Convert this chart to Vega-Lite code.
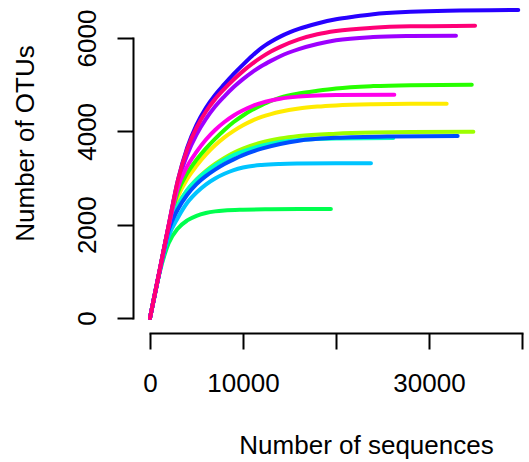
{
  "$schema": "https://vega.github.io/schema/vega-lite/v6.json",
  "width": 372,
  "height": 280,
  "autosize": {"type": "none"},
  "padding": {"left": 150, "top": 38, "right": 7, "bottom": 144},
  "background": "white",
  "config": {"view": {"stroke": null}, "font": "Liberation Sans"},
  "datasets": {
    "curves": [
      {"sample": "S02", "seqs": 0, "otus": 0}, {"sample": "S02", "seqs": 1000, "otus": 975}, {"sample": "S02", "seqs": 2000, "otus": 1930}, {"sample": "S02", "seqs": 3000, "otus": 2600}, {"sample": "S02", "seqs": 4000, "otus": 2980}, {"sample": "S02", "seqs": 5000, "otus": 3260}, {"sample": "S02", "seqs": 6000, "otus": 3500}, {"sample": "S02", "seqs": 7000, "otus": 3700}, {"sample": "S02", "seqs": 8000, "otus": 3870}, {"sample": "S02", "seqs": 9000, "otus": 4010}, {"sample": "S02", "seqs": 10000, "otus": 4130}, {"sample": "S02", "seqs": 11000, "otus": 4230}, {"sample": "S02", "seqs": 12000, "otus": 4310}, {"sample": "S02", "seqs": 13000, "otus": 4370}, {"sample": "S02", "seqs": 14000, "otus": 4420}, {"sample": "S02", "seqs": 16000, "otus": 4490}, {"sample": "S02", "seqs": 18000, "otus": 4530}, {"sample": "S02", "seqs": 20000, "otus": 4555}, {"sample": "S02", "seqs": 24000, "otus": 4580}, {"sample": "S02", "seqs": 28000, "otus": 4590}, {"sample": "S02", "seqs": 31900, "otus": 4593},

      {"sample": "S03", "seqs": 0, "otus": 0}, {"sample": "S03", "seqs": 1000, "otus": 970}, {"sample": "S03", "seqs": 2000, "otus": 1920}, {"sample": "S03", "seqs": 3000, "otus": 2420}, {"sample": "S03", "seqs": 4000, "otus": 2740}, {"sample": "S03", "seqs": 5000, "otus": 2970}, {"sample": "S03", "seqs": 6000, "otus": 3150}, {"sample": "S03", "seqs": 7000, "otus": 3300}, {"sample": "S03", "seqs": 8000, "otus": 3430}, {"sample": "S03", "seqs": 9000, "otus": 3540}, {"sample": "S03", "seqs": 10000, "otus": 3630}, {"sample": "S03", "seqs": 12000, "otus": 3760}, {"sample": "S03", "seqs": 14000, "otus": 3845}, {"sample": "S03", "seqs": 16000, "otus": 3900}, {"sample": "S03", "seqs": 20000, "otus": 3950}, {"sample": "S03", "seqs": 24000, "otus": 3975}, {"sample": "S03", "seqs": 28000, "otus": 3987}, {"sample": "S03", "seqs": 34770, "otus": 3993},

      {"sample": "S04", "seqs": 0, "otus": 0}, {"sample": "S04", "seqs": 1000, "otus": 980}, {"sample": "S04", "seqs": 2000, "otus": 1950}, {"sample": "S04", "seqs": 3000, "otus": 2700}, {"sample": "S04", "seqs": 4000, "otus": 3100}, {"sample": "S04", "seqs": 5000, "otus": 3390}, {"sample": "S04", "seqs": 6000, "otus": 3630}, {"sample": "S04", "seqs": 7000, "otus": 3840}, {"sample": "S04", "seqs": 8000, "otus": 4030}, {"sample": "S04", "seqs": 9000, "otus": 4200}, {"sample": "S04", "seqs": 10000, "otus": 4340}, {"sample": "S04", "seqs": 11000, "otus": 4460}, {"sample": "S04", "seqs": 12000, "otus": 4560}, {"sample": "S04", "seqs": 13000, "otus": 4650}, {"sample": "S04", "seqs": 14000, "otus": 4720}, {"sample": "S04", "seqs": 16000, "otus": 4810}, {"sample": "S04", "seqs": 18000, "otus": 4870}, {"sample": "S04", "seqs": 20000, "otus": 4920}, {"sample": "S04", "seqs": 24000, "otus": 4970}, {"sample": "S04", "seqs": 28000, "otus": 4990}, {"sample": "S04", "seqs": 34600, "otus": 5000},

      {"sample": "S05", "seqs": 0, "otus": 0}, {"sample": "S05", "seqs": 1000, "otus": 950}, {"sample": "S05", "seqs": 2000, "otus": 1600}, {"sample": "S05", "seqs": 3000, "otus": 1920}, {"sample": "S05", "seqs": 4000, "otus": 2090}, {"sample": "S05", "seqs": 5000, "otus": 2190}, {"sample": "S05", "seqs": 6000, "otus": 2250}, {"sample": "S05", "seqs": 7000, "otus": 2285}, {"sample": "S05", "seqs": 8000, "otus": 2305}, {"sample": "S05", "seqs": 10000, "otus": 2322}, {"sample": "S05", "seqs": 13000, "otus": 2331}, {"sample": "S05", "seqs": 16000, "otus": 2335}, {"sample": "S05", "seqs": 19450, "otus": 2336},

      {"sample": "S06", "seqs": 0, "otus": 0}, {"sample": "S06", "seqs": 1000, "otus": 970}, {"sample": "S06", "seqs": 2000, "otus": 1920}, {"sample": "S06", "seqs": 3000, "otus": 2420}, {"sample": "S06", "seqs": 4000, "otus": 2740}, {"sample": "S06", "seqs": 5000, "otus": 2960}, {"sample": "S06", "seqs": 6000, "otus": 3130}, {"sample": "S06", "seqs": 7000, "otus": 3270}, {"sample": "S06", "seqs": 8000, "otus": 3390}, {"sample": "S06", "seqs": 9000, "otus": 3490}, {"sample": "S06", "seqs": 10000, "otus": 3570}, {"sample": "S06", "seqs": 12000, "otus": 3690}, {"sample": "S06", "seqs": 14000, "otus": 3770}, {"sample": "S06", "seqs": 16000, "otus": 3815}, {"sample": "S06", "seqs": 20000, "otus": 3848}, {"sample": "S06", "seqs": 26160, "otus": 3857},

      {"sample": "S07", "seqs": 0, "otus": 0}, {"sample": "S07", "seqs": 1000, "otus": 960}, {"sample": "S07", "seqs": 2000, "otus": 1750}, {"sample": "S07", "seqs": 3000, "otus": 2150}, {"sample": "S07", "seqs": 4000, "otus": 2470}, {"sample": "S07", "seqs": 5000, "otus": 2690}, {"sample": "S07", "seqs": 6000, "otus": 2860}, {"sample": "S07", "seqs": 7000, "otus": 2990}, {"sample": "S07", "seqs": 8000, "otus": 3090}, {"sample": "S07", "seqs": 9000, "otus": 3170}, {"sample": "S07", "seqs": 10000, "otus": 3225}, {"sample": "S07", "seqs": 12000, "otus": 3280}, {"sample": "S07", "seqs": 14000, "otus": 3302}, {"sample": "S07", "seqs": 16000, "otus": 3310}, {"sample": "S07", "seqs": 20000, "otus": 3315}, {"sample": "S07", "seqs": 23760, "otus": 3316},

      {"sample": "S08", "seqs": 0, "otus": 0}, {"sample": "S08", "seqs": 1000, "otus": 970}, {"sample": "S08", "seqs": 2000, "otus": 1880}, {"sample": "S08", "seqs": 3000, "otus": 2330}, {"sample": "S08", "seqs": 4000, "otus": 2640}, {"sample": "S08", "seqs": 5000, "otus": 2870}, {"sample": "S08", "seqs": 6000, "otus": 3040}, {"sample": "S08", "seqs": 7000, "otus": 3180}, {"sample": "S08", "seqs": 8000, "otus": 3300}, {"sample": "S08", "seqs": 9000, "otus": 3400}, {"sample": "S08", "seqs": 10000, "otus": 3490}, {"sample": "S08", "seqs": 12000, "otus": 3630}, {"sample": "S08", "seqs": 14000, "otus": 3730}, {"sample": "S08", "seqs": 16000, "otus": 3800}, {"sample": "S08", "seqs": 20000, "otus": 3860}, {"sample": "S08", "seqs": 26000, "otus": 3890}, {"sample": "S08", "seqs": 33080, "otus": 3900},

      {"sample": "S09", "seqs": 0, "otus": 0}, {"sample": "S09", "seqs": 1000, "otus": 990}, {"sample": "S09", "seqs": 2000, "otus": 1980}, {"sample": "S09", "seqs": 3000, "otus": 2950}, {"sample": "S09", "seqs": 4000, "otus": 3650}, {"sample": "S09", "seqs": 5000, "otus": 4140}, {"sample": "S09", "seqs": 6000, "otus": 4500}, {"sample": "S09", "seqs": 7000, "otus": 4780}, {"sample": "S09", "seqs": 8000, "otus": 5010}, {"sample": "S09", "seqs": 9000, "otus": 5230}, {"sample": "S09", "seqs": 10000, "otus": 5430}, {"sample": "S09", "seqs": 11000, "otus": 5620}, {"sample": "S09", "seqs": 12000, "otus": 5790}, {"sample": "S09", "seqs": 13000, "otus": 5920}, {"sample": "S09", "seqs": 14000, "otus": 6030}, {"sample": "S09", "seqs": 15000, "otus": 6120}, {"sample": "S09", "seqs": 16000, "otus": 6195}, {"sample": "S09", "seqs": 18000, "otus": 6310}, {"sample": "S09", "seqs": 20000, "otus": 6400}, {"sample": "S09", "seqs": 22000, "otus": 6460}, {"sample": "S09", "seqs": 24000, "otus": 6510}, {"sample": "S09", "seqs": 28000, "otus": 6560}, {"sample": "S09", "seqs": 32000, "otus": 6585}, {"sample": "S09", "seqs": 39600, "otus": 6600},

      {"sample": "S10", "seqs": 0, "otus": 0}, {"sample": "S10", "seqs": 1000, "otus": 985}, {"sample": "S10", "seqs": 2000, "otus": 1970}, {"sample": "S10", "seqs": 3000, "otus": 2900}, {"sample": "S10", "seqs": 4000, "otus": 3500}, {"sample": "S10", "seqs": 5000, "otus": 3930}, {"sample": "S10", "seqs": 6000, "otus": 4260}, {"sample": "S10", "seqs": 7000, "otus": 4530}, {"sample": "S10", "seqs": 8000, "otus": 4750}, {"sample": "S10", "seqs": 9000, "otus": 4950}, {"sample": "S10", "seqs": 10000, "otus": 5120}, {"sample": "S10", "seqs": 11000, "otus": 5270}, {"sample": "S10", "seqs": 12000, "otus": 5400}, {"sample": "S10", "seqs": 13000, "otus": 5510}, {"sample": "S10", "seqs": 14000, "otus": 5610}, {"sample": "S10", "seqs": 16000, "otus": 5760}, {"sample": "S10", "seqs": 18000, "otus": 5870}, {"sample": "S10", "seqs": 20000, "otus": 5950}, {"sample": "S10", "seqs": 24000, "otus": 6020}, {"sample": "S10", "seqs": 28000, "otus": 6042}, {"sample": "S10", "seqs": 32900, "otus": 6050},

      {"sample": "S11", "seqs": 0, "otus": 0}, {"sample": "S11", "seqs": 1000, "otus": 980}, {"sample": "S11", "seqs": 2000, "otus": 1960}, {"sample": "S11", "seqs": 3000, "otus": 2800}, {"sample": "S11", "seqs": 4000, "otus": 3250}, {"sample": "S11", "seqs": 5000, "otus": 3560}, {"sample": "S11", "seqs": 6000, "otus": 3820}, {"sample": "S11", "seqs": 7000, "otus": 4030}, {"sample": "S11", "seqs": 8000, "otus": 4200}, {"sample": "S11", "seqs": 9000, "otus": 4340}, {"sample": "S11", "seqs": 10000, "otus": 4450}, {"sample": "S11", "seqs": 11000, "otus": 4540}, {"sample": "S11", "seqs": 12000, "otus": 4610}, {"sample": "S11", "seqs": 13000, "otus": 4660}, {"sample": "S11", "seqs": 14000, "otus": 4700}, {"sample": "S11", "seqs": 16000, "otus": 4745}, {"sample": "S11", "seqs": 18000, "otus": 4768}, {"sample": "S11", "seqs": 20000, "otus": 4778}, {"sample": "S11", "seqs": 26270, "otus": 4785},

      {"sample": "S12", "seqs": 0, "otus": 0}, {"sample": "S12", "seqs": 1000, "otus": 990}, {"sample": "S12", "seqs": 2000, "otus": 1980}, {"sample": "S12", "seqs": 3000, "otus": 2950}, {"sample": "S12", "seqs": 4000, "otus": 3620}, {"sample": "S12", "seqs": 5000, "otus": 4080}, {"sample": "S12", "seqs": 6000, "otus": 4420}, {"sample": "S12", "seqs": 7000, "otus": 4690}, {"sample": "S12", "seqs": 8000, "otus": 4910}, {"sample": "S12", "seqs": 9000, "otus": 5110}, {"sample": "S12", "seqs": 10000, "otus": 5290}, {"sample": "S12", "seqs": 11000, "otus": 5450}, {"sample": "S12", "seqs": 12000, "otus": 5590}, {"sample": "S12", "seqs": 13000, "otus": 5710}, {"sample": "S12", "seqs": 14000, "otus": 5810}, {"sample": "S12", "seqs": 16000, "otus": 5970}, {"sample": "S12", "seqs": 18000, "otus": 6080}, {"sample": "S12", "seqs": 20000, "otus": 6150}, {"sample": "S12", "seqs": 24000, "otus": 6220}, {"sample": "S12", "seqs": 28000, "otus": 6250}, {"sample": "S12", "seqs": 34950, "otus": 6265}
    ]
  },
  "data": {"name": "curves"},
  "mark": {"type": "line", "strokeWidth": 4, "strokeCap": "round", "strokeJoin": "round", "interpolate": "monotone", "clip": false},
  "encoding": {
    "x": {
      "field": "seqs", "type": "quantitative",
      "scale": {"domain": [0, 40000], "nice": false, "zero": false},
      "axis": {
        "offset": 15, "grid": false,
        "values": [0, 10000, 20000, 30000, 40000], "format": "d",
        "labelExpr": "datum.value == 20000 || datum.value == 40000 ? '' : datum.label",
        "domainColor": "black", "domainWidth": 2, "domainCap": "square",
        "tickColor": "black", "tickWidth": 2, "tickSize": 16,
        "labelFont": "Liberation Sans", "labelFontSize": 26, "labelColor": "black",
        "labelPadding": 42, "labelBaseline": "alphabetic", "labelAlign": "center",
        "labelFlush": false, "labelOverlap": false, "labelBound": false,
        "title": "Number of sequences", "titleFont": "Liberation Sans", "titleFontSize": 26,
        "titleFontWeight": "normal", "titleColor": "black",
        "titleX": 216, "titleY": 120, "titleAlign": "center", "titleBaseline": "alphabetic", "titleAnchor": null
      }
    },
    "y": {
      "field": "otus", "type": "quantitative",
      "scale": {"domain": [0, 6000], "nice": false, "zero": false},
      "axis": {
        "offset": 17, "grid": false,
        "values": [0, 2000, 4000, 6000], "format": "d",
        "domainColor": "black", "domainWidth": 2, "domainCap": "square",
        "tickColor": "black", "tickWidth": 2, "tickSize": 16,
        "labelFont": "Liberation Sans", "labelFontSize": 26, "labelColor": "black",
        "labelAngle": -90, "labelAlign": "center", "labelBaseline": "alphabetic", "labelPadding": 22,
        "labelFlush": false, "labelOverlap": false, "labelBound": false,
        "title": "Number of OTUs", "titleFont": "Liberation Sans", "titleFontSize": 26,
        "titleFontWeight": "normal", "titleColor": "black", "titleAngle": 270,
        "titleX": -100, "titleY": 105, "titleAlign": "center", "titleBaseline": "alphabetic", "titleAnchor": null
      }
    },
    "color": {
      "field": "sample", "type": "nominal", "legend": null,
      "scale": {
        "domain": ["S02", "S03", "S04", "S05", "S06", "S07", "S08", "S09", "S10", "S11", "S12"],
        "range": ["#FFEB00", "#9DFF00", "#27FF00", "#00FF4E", "#00FFC4", "#00C4FF", "#004EFF", "#2700FF", "#9D00FF", "#FF00EB", "#FF0076"]
      }
    }
  }
}
